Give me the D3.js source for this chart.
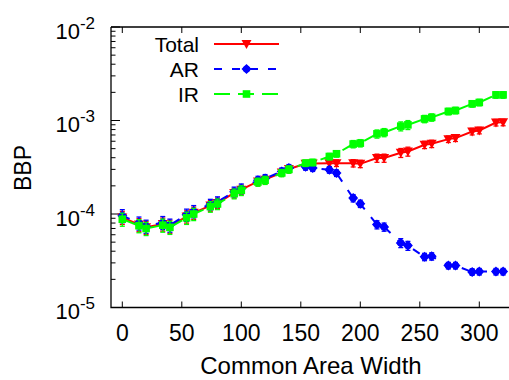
<!DOCTYPE html>
<html>
<head>
<meta charset="utf-8">
<script src="https://cdn.jsdelivr.net/npm/d3@7"></script>
<style>
  body { margin: 0; background: #fff; }
  svg { font-family: "Liberation Sans", Arial, sans-serif; }
</style>
</head>
<body>
<svg id="chart"></svg>
<script>
const widths = [0, 14, 20, 34, 40, 54, 60, 74, 80, 94, 100, 114, 120, 134, 140, 154, 160,
  174, 180, 194, 200, 214, 220, 234, 240, 254, 260, 274, 280, 294, 300, 314, 320];

const total = [9.2e-5, 7.7e-5, 7.2e-5, 7.8e-5, 7.4e-5, 9.4e-5, 1.03e-4, 1.23e-4, 1.31e-4,
  1.68e-4, 1.82e-4, 2.23e-4, 2.33e-4, 2.78e-4, 3.03e-4, 3.44e-4, 3.47e-4,
  3.5e-4, 3.5e-4, 3.5e-4, 3.44e-4, 3.97e-4, 3.97e-4, 4.52e-4, 4.67e-4,
  5.5e-4, 5.64e-4, 6.32e-4, 6.48e-4, 7.62e-4, 7.82e-4, 9.5e-4, 9.55e-4];

const ar = [9.6e-5, 8.0e-5, 7.4e-5, 8.1e-5, 7.6e-5, 9.8e-5, 1.07e-4, 1.27e-4, 1.35e-4,
  1.73e-4, 1.87e-4, 2.3e-4, 2.4e-4, 2.85e-4, 3.1e-4, 3.2e-4, 3.1e-4,
  2.97e-4, 2.74e-4, 1.48e-4, 1.29e-4, 7.7e-5, 7.27e-5, 4.91e-5, 4.59e-5,
  3.48e-5, 3.53e-5, 2.81e-5, 2.81e-5, 2.4e-5, 2.42e-5, 2.42e-5, 2.42e-5];

const ir = [8.8e-5, 7.5e-5, 7.0e-5, 7.6e-5, 7.2e-5, 9.1e-5, 1.0e-4, 1.2e-4, 1.28e-4,
  1.65e-4, 1.79e-4, 2.2e-4, 2.3e-4, 2.75e-4, 3.0e-4, 3.5e-4, 3.56e-4,
  4.12e-4, 4.41e-4, 5.6e-4, 5.73e-4, 7.2e-4, 7.45e-4, 8.7e-4, 8.99e-4,
  1.04e-3, 1.08e-3, 1.25e-3, 1.28e-3, 1.51e-3, 1.56e-3, 1.88e-3, 1.88e-3];

// relative error of each point
const relErr = [0.16, 0.16, 0.16, 0.16, 0.16, 0.15, 0.15, 0.13, 0.13, 0.12, 0.12, 0.1, 0.1,
  0.09, 0.09, 0.08, 0.08, 0.08, 0.08, 0.09, 0.09, 0.1, 0.1, 0.11, 0.11,
  0.09, 0.09, 0.08, 0.08, 0.08, 0.08, 0.08, 0.08];

const xTicks = [0, 50, 100, 150, 200, 250, 300];
const yExps = [-2, -3, -4, -5];

const W = 509, H = 380;
const margin = { top: 27, left: 111, bottom: 72 };

const svg = d3.select("#chart").attr("width", W).attr("height", H);

const x = d3.scaleLinear().domain([-10, 330]).range([margin.left - 0.6, 515]);
const y = d3.scaleLog().domain([1e-5, 1e-2]).range([H - margin.bottom - 0.5, margin.top]);

const x0 = margin.left, yB = y(1e-5), yT = y(1e-2);

// frame
svg.append("path")
  .attr("d", `M${x0},${yT} L${x0},${yB} L${W + 5},${yB} M${x0},${yT} L${W + 5},${yT}`)
  .attr("fill", "none").attr("stroke", "#000").attr("stroke-width", 1.3);

// x ticks bottom and top
xTicks.forEach(t => {
  svg.append("line").attr("x1", x(t)).attr("x2", x(t)).attr("y1", yB).attr("y2", yB - 6)
    .attr("stroke", "#000");
  svg.append("line").attr("x1", x(t)).attr("x2", x(t)).attr("y1", yT).attr("y2", yT + 6)
    .attr("stroke", "#000");
  svg.append("text").attr("x", x(t)).attr("y", 341).attr("text-anchor", "middle")
    .attr("font-size", 23).text(t);
});

// y ticks, major and minor
yExps.forEach(e => {
  const v = Math.pow(10, e);
  svg.append("line").attr("x1", x0).attr("x2", x0 + 9).attr("y1", y(v)).attr("y2", y(v))
    .attr("stroke", "#000");
  const lab = svg.append("text").attr("x", 95).attr("y", y(v) + 11.5)
    .attr("text-anchor", "end").attr("font-size", 22);
  lab.append("tspan").text("10");
  lab.append("tspan").attr("dy", -10).attr("font-size", 17).text(e);
  if (e < -2) {
    for (let k = 2; k <= 9; k++) {
      const yy = y(k * v);
      svg.append("line").attr("x1", x0).attr("x2", x0 + 4.5).attr("y1", yy).attr("y2", yy)
        .attr("stroke", "#000");
    }
  }
});

// axis titles
svg.append("text").attr("transform", "translate(31,168) rotate(-90)")
  .attr("text-anchor", "middle").attr("font-size", 23).text("BBP");
svg.append("text").attr("x", 311).attr("y", 374).attr("text-anchor", "middle")
  .attr("font-size", 24).text("Common Area Width");

const series = [
  { name: "Total", vals: total, color: "#ff0000", dash: null, marker: "tri" },
  { name: "AR", vals: ar, color: "#0000ff", dash: "8,10", marker: "dia" },
  { name: "IR", vals: ir, color: "#00ff00", dash: "16,8", marker: "sq" }
];

function drawMarker(g, type, cx, cy, color) {
  if (type === "tri") {
    g.append("path").attr("d", `M${cx - 5},${cy - 4} L${cx + 5},${cy - 4} L${cx},${cy + 5} Z`)
      .attr("fill", color);
  } else if (type === "dia") {
    g.append("path").attr("d", `M${cx},${cy - 5} L${cx + 5},${cy} L${cx},${cy + 5} L${cx - 5},${cy} Z`)
      .attr("fill", color);
    g.append("circle").attr("cx", cx).attr("cy", cy).attr("r", 3.6).attr("fill", color);
  } else {
    g.append("rect").attr("x", cx - 3.8).attr("y", cy - 3.8).attr("width", 7.6).attr("height", 7.6)
      .attr("fill", color);
  }
}

const line = d3.line().x(d => x(d[0])).y(d => y(d[1]));

series.forEach(s => {
  const g = svg.append("g");
  const pts = widths.map((w, i) => [w, s.vals[i]]);
  g.append("path").attr("d", line(pts)).attr("fill", "none")
    .attr("stroke", s.color).attr("stroke-width", 2)
    .attr("stroke-dasharray", s.dash);
  pts.forEach((p, i) => {
    const cx = x(p[0]);
    const lo = y(p[1] * (1 - relErr[i])), hi = y(p[1] * (1 + relErr[i]));
    g.append("line").attr("x1", cx).attr("x2", cx).attr("y1", lo).attr("y2", hi)
      .attr("stroke", s.color).attr("stroke-width", 1.3);
    [lo, hi].forEach(yy => g.append("line").attr("x1", cx - 2.5).attr("x2", cx + 2.5)
      .attr("y1", yy).attr("y2", yy).attr("stroke", s.color).attr("stroke-width", 1.3));
    drawMarker(g, s.marker, cx, y(p[1]), s.color);
  });
});

// legend
series.forEach((s, i) => {
  const ly = 44 + i * 25;
  svg.append("text").attr("x", 199).attr("y", ly + 7.5).attr("text-anchor", "end")
    .attr("font-size", 21).text(s.name);
  svg.append("line").attr("x1", 214).attr("x2", 279).attr("y1", ly).attr("y2", ly)
    .attr("stroke", s.color).attr("stroke-width", 2).attr("stroke-dasharray", s.dash);
  drawMarker(svg, s.marker, 246.5, ly, s.color);
});
</script>
</body>
</html>
